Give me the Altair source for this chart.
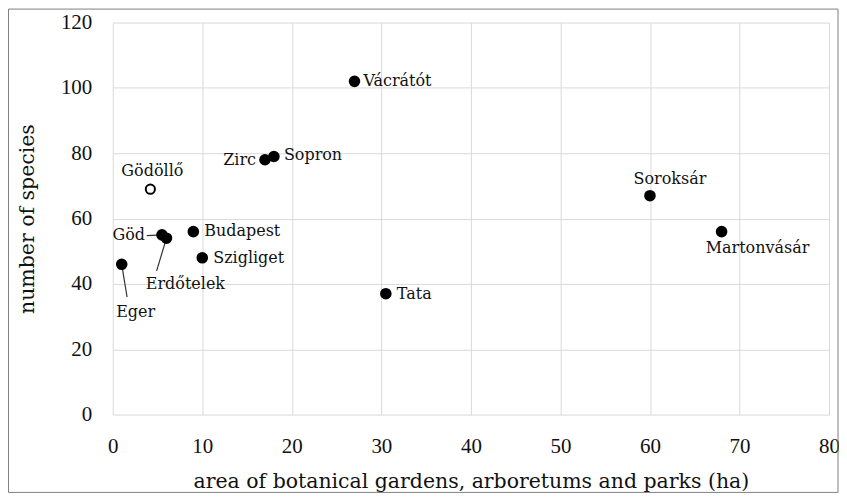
import altair as alt
import pandas as pd

# ---- data ----
NAMES = ["Eger", "Göd", "Erdőtelek", "Gödöllő", "Budapest", "Szigliget",
         "Zirc", "Sopron", "Vácrátót", "Tata", "Soroksár", "Martonvásár"]
AREA_HA = [1, 5.5, 6, 4.2, 9, 10, 17, 18, 27, 30.5, 60, 68]
SPECIES = [46, 55, 54, 69, 56, 48, 78, 79, 102, 37, 67, 56]
OPEN_MARKER = ["Gödöllő"]

X_TICKS = [0, 10, 20, 30, 40, 50, 60, 70, 80]
Y_TICKS = [0, 20, 40, 60, 80, 100, 120]

# leader lines: end point of each (in data units), start is the point itself
LEADER_NAMES = ["Göd", "Erdőtelek", "Eger"]
LEADER_END_AREA = [3.8, 4.9, 1.6]
LEADER_END_SPECIES = [54.8, 44, 36]

X_TITLE = "area of botanical gardens, arboretums and parks (ha)"
Y_TITLE = "number of species"

# ---- label placement (styling: align, dx, dy in pixels) ----
PLACEMENT = {
    "Eger": ("center", 14, 48),
    "Göd": ("right", -17, 0),
    "Erdőtelek": ("center", 19, 46),
    "Gödöllő": ("center", 2, -18),
    "Budapest": ("left", 11, -1),
    "Szigliget": ("left", 11, 0),
    "Zirc": ("right", -9, 0),
    "Sopron": ("left", 10, -1),
    "Vácrátót": ("left", 9, 0),
    "Tata": ("left", 11, 0),
    "Soroksár": ("center", 20, -17),
    "Martonvásár": ("center", 36, 16),
}

df = pd.DataFrame({"name": NAMES, "area": AREA_HA, "species": SPECIES})
df["open"] = df["name"].isin(OPEN_MARKER)

leaders = pd.DataFrame({"name": LEADER_NAMES,
                        "end_area": LEADER_END_AREA,
                        "end_species": LEADER_END_SPECIES})
leaders = leaders.merge(df[["name", "area", "species"]], on="name")

TEXT = "#111111"
GRID = "#d9d9d9"

x_scale = alt.Scale(domain=[0, 80], nice=False, zero=False)
y_scale = alt.Scale(domain=[0, 120], nice=False, zero=False)

x_axis = alt.Axis(values=X_TICKS, title=X_TITLE, grid=True, gridColor=GRID,
                  gridWidth=1, domain=False, ticks=False, tickSize=0,
                  labelFont="Liberation Serif", labelFontSize=21,
                  labelColor=TEXT, labelPadding=21, labelFlush=False,
                  labelOverlap=False,
                  titleFont="DejaVu Serif", titleFontSize=20.5,
                  titleFontWeight="normal", titleColor=TEXT,
                  titleY=73, titleBaseline="alphabetic")
y_axis = alt.Axis(values=Y_TICKS, title=Y_TITLE, grid=True, gridColor=GRID,
                  gridWidth=1, domain=False, ticks=False, tickSize=0,
                  labelFont="Liberation Serif", labelFontSize=21,
                  labelColor=TEXT, labelPadding=21, labelFlush=False,
                  labelOverlap=False,
                  titleFont="DejaVu Serif", titleFontSize=20.5,
                  titleFontWeight="normal", titleColor=TEXT,
                  titleX=-85, titleY=196.5, titleBaseline="middle",
                  titleAngle=-90)

base = alt.Chart(df)

leader_layer = alt.Chart(leaders).mark_rule(color="#333333", strokeWidth=1.2).encode(
    x=alt.X("area:Q", scale=x_scale, axis=x_axis),
    y=alt.Y("species:Q", scale=y_scale, axis=y_axis),
    x2="end_area:Q",
    y2="end_species:Q",
)

filled = base.transform_filter(alt.datum.open == False).mark_point(
    filled=True, shape="circle", size=135, color="#000000", opacity=1
).encode(
    x=alt.X("area:Q", scale=x_scale),
    y=alt.Y("species:Q", scale=y_scale),
)

hollow = base.transform_filter(alt.datum.open == True).mark_point(
    shape="circle", size=85, fill="#ffffff", stroke="#000000",
    strokeWidth=2, opacity=1, fillOpacity=1
).encode(
    x=alt.X("area:Q", scale=x_scale),
    y=alt.Y("species:Q", scale=y_scale),
)

label_layers = []
for n in NAMES:
    align, dx, dy = PLACEMENT[n]
    label_layers.append(
        base.transform_filter(alt.datum.name == n).mark_text(
            align=align, baseline="middle", dx=dx, dy=dy,
            font="DejaVu Serif", fontSize=16, color=TEXT
        ).encode(
            x=alt.X("area:Q", scale=x_scale),
            y=alt.Y("species:Q", scale=y_scale),
            text="name:N",
        )
    )

border = alt.Chart(pd.DataFrame({"k": [0]})).mark_rect(
    stroke="#7f7f7f", strokeWidth=1, fillOpacity=0
).encode(
    x=alt.value(-104.5), x2=alt.value(727),
    y=alt.value(-13.5), y2=alt.value(471),
)

chart = alt.layer(leader_layer, filled, hollow, *label_layers, border).properties(
    width=718, height=393,
    autosize=alt.AutoSizeParams(type="none"),
    padding={"left": 105, "top": 14, "right": 10, "bottom": 80},
    background="#ffffff",
).configure_view(stroke=None)

chart.save("out.html", embed_options={"renderer": "svg", "actions": False})
